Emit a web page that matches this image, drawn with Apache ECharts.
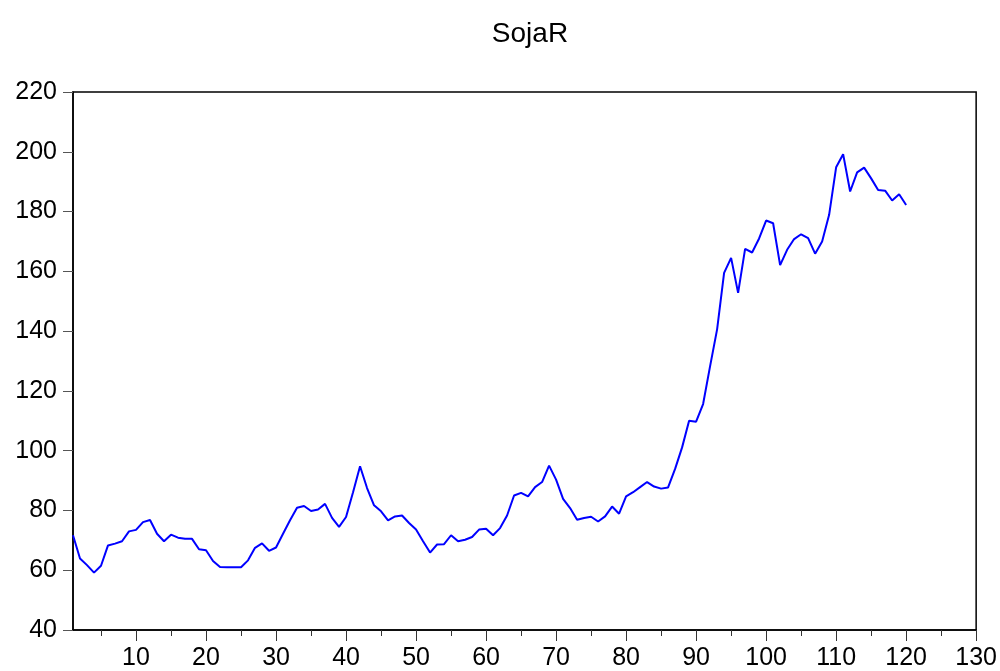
<!DOCTYPE html>
<html>
<head>
<meta charset="utf-8">
<title>SojaR</title>
<script src="https://cdn.jsdelivr.net/npm/echarts@6/dist/echarts.min.js"></script>
<style>
    html, body { margin: 0; padding: 0; background: #fff; }
    #main { width: 1000px; height: 671px; }
</style>
</head>
<body>
<div id="main"></div>
<script>
// SojaR series, observations 1..120
var sojaR = [
    71.7, 63.9, 61.7, 59.2, 61.5, 68.3, 68.9, 69.7, 73.0, 73.5,
    76.1, 76.8, 72.2, 69.7, 71.9, 70.9, 70.5, 70.5, 67.0, 66.7,
    63.1, 61.1, 61.0, 61.0, 61.0, 63.3, 67.5, 69.0, 66.5, 67.6,
    72.2, 76.7, 80.9, 81.5, 79.8, 80.3, 82.2, 77.5, 74.5, 77.8,
    86.1, 94.8, 87.5, 81.7, 79.7, 76.7, 78.0, 78.3, 75.8, 73.6,
    69.7, 65.9, 68.6, 68.7, 71.7, 69.7, 70.2, 71.1, 73.6, 73.9,
    71.7, 74.1, 78.3, 85.0, 85.9, 84.7, 87.8, 89.5, 95.0, 90.3,
    83.9, 80.8, 76.9, 77.5, 77.9, 76.3, 78.0, 81.3, 78.9, 84.7,
    86.1, 87.8, 89.5, 88.0, 87.3, 87.7, 93.9, 101.1, 110.0, 109.7,
    115.6, 128.3, 140.6, 159.5, 164.5, 152.8, 167.5, 166.3, 171.0, 177.0,
    176.1, 162.1, 167.2, 170.8, 172.4, 171.1, 165.9, 170.0, 178.9, 194.8,
    199.2, 186.7, 193.1, 194.7, 191.1, 187.2, 187.0, 183.7, 185.8, 182.2
];
var xMajorTicks = [10, 20, 30, 40, 50, 60, 70, 80, 90, 100, 110, 120, 130];
var xMinorTicks = [5, 15, 25, 35, 45, 55, 65, 75, 85, 95, 105, 115, 125];

init();

function init() {
    var chart = echarts.init(document.getElementById('main'), null, { renderer: 'canvas' });
    var points = [];
    for (var i = 0; i < sojaR.length; i++) {
        points.push([i + 1, sojaR[i]]);
    }
    var font = 'Liberation Sans, Arial, sans-serif';
    var option = {
        backgroundColor: '#fff',
        animation: false,
        title: {
            text: 'SojaR',
            left: 525,
            textAlign: 'center',
            top: 15,
            textStyle: { fontFamily: font, fontSize: 28, fontWeight: 'normal', color: '#000' }
        },
        grid: {
            left: 73, right: 23, top: 92, bottom: 39,
            show: true, borderColor: '#000', borderWidth: 1.5
        },
        xAxis: [{
            type: 'value', min: 1, max: 130, position: 'bottom',
            splitLine: { show: false },
            axisLine: { lineStyle: { color: '#000', width: 1.5 } },
            axisTick: { customValues: xMajorTicks, length: 11, lineStyle: { color: '#333', width: 1 } },
            axisLabel: { customValues: xMajorTicks, margin: 16, fontFamily: font, fontSize: 25, color: '#000' }
        }, {
            type: 'value', min: 1, max: 130, position: 'bottom',
            splitLine: { show: false },
            axisLine: { show: false },
            axisTick: { customValues: xMinorTicks, length: 6, lineStyle: { color: '#333', width: 1 } },
            axisLabel: { show: false }
        }],
        yAxis: {
            type: 'value', min: 40, max: 220, interval: 20,
            splitLine: { show: false },
            axisLine: { show: true, lineStyle: { color: '#000', width: 1.5 } },
            axisTick: { show: true, length: 10, lineStyle: { color: '#555', width: 1 } },
            axisLabel: { margin: 16, fontFamily: font, fontSize: 25, color: '#000' }
        },
        series: [{
            name: 'SojaR',
            type: 'line',
            xAxisIndex: 0,
            data: points,
            showSymbol: false,
            lineStyle: { color: '#0000ff', width: 2 }
        }]
    };
    chart.setOption(option);
}
</script>
</body>
</html>
